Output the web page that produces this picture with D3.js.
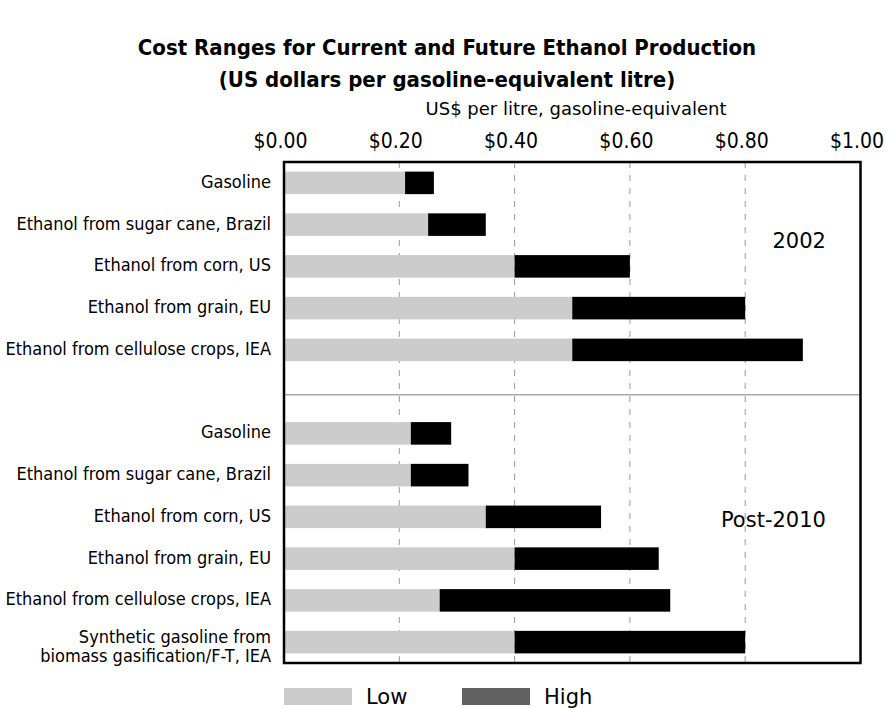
<!DOCTYPE html>
<html lang="en">
<head>
    <meta charset="UTF-8">
    <title>Cost Ranges for Ethanol Production</title>
    <style>
        body { margin: 0; background: #fff; }
        svg { display: block; font-family: "DejaVu Sans Condensed", sans-serif; }
        .title { font-weight: bold; font-size: 22px; }
        .axis text { font-family: "DejaVu Sans Condensed", sans-serif; font-size: 21px; }
        .axis path, .axis line { display: none; }
        .grid { stroke: #999; stroke-dasharray: 6,7; }
        .cat { font-size: 18px; }
        .big { font-family: "DejaVu Sans", sans-serif; font-size: 21px; }
    </style>
</head>
<body>
<svg width="886" height="708"></svg>
<script src="https://d3js.org/d3.v7.min.js"></script>
<script>

    // 2002
    var cats2002 = ["Gasoline", "Ethanol from sugar cane, Brazil", "Ethanol from corn, US",
                    "Ethanol from grain, EU", "Ethanol from cellulose crops, IEA"];
    var low2002  = [0.21, 0.25, 0.40, 0.50, 0.50];
    var high2002 = [0.26, 0.35, 0.60, 0.80, 0.90];

    // post-2010
    var catsPost = ["Gasoline", "Ethanol from sugar cane, Brazil", "Ethanol from corn, US",
                    "Ethanol from grain, EU", "Ethanol from cellulose crops, IEA",
                    "Synthetic gasoline from|biomass gasification/F-T, IEA"];
    var lowPost  = [0.22, 0.22, 0.35, 0.40, 0.27, 0.40];
    var highPost = [0.29, 0.32, 0.55, 0.65, 0.67, 0.80];

    var xTicks = [0, 0.2, 0.4, 0.6, 0.8, 1.0];
    var periods = ["2002", "Post-2010"];

    var svg = d3.select("svg"),
        pLeft = 284, pRight = 860.5, pTop = 162, pBottom = 663;

    // rows: 5 for 2002, one blank slot, 6 for post-2010
    var rows = [];
    cats2002.forEach(function(c, i) { rows.push({key: "a" + i, label: c, low: low2002[i], high: high2002[i]}); });
    rows.push({key: "gap"});
    catsPost.forEach(function(c, i) { rows.push({key: "b" + i, label: c, low: lowPost[i], high: highPost[i]}); });
    var bars = rows.filter(function(d) { return d.key != "gap"; });

    var x = d3.scaleLinear().domain([0, 1]).range([pLeft, pRight]);
    var y = d3.scaleBand().domain(rows.map(function(d) { return d.key; }))
        .range([pTop, pBottom]).paddingInner(0.46).paddingOuter(0.23);

    // title
    svg.append("text").attr("class", "title").attr("x", 447).attr("y", 55)
        .attr("text-anchor", "middle").text("Cost Ranges for Current and Future Ethanol Production");
    svg.append("text").attr("class", "title").attr("x", 447).attr("y", 87)
        .attr("text-anchor", "middle").text("(US dollars per gasoline-equivalent litre)");

    svg.append("text").attr("class", "big").attr("x", 576).attr("y", 115)
        .attr("text-anchor", "middle").style("font-size", "18px")
        .text("US$ per litre, gasoline-equivalent");

    svg.append("g").attr("class", "axis")
        .attr("transform", "translate(0," + pTop + ")")
        .call(d3.axisTop(x).tickValues(xTicks).tickFormat(d3.format("$.2f")).tickSize(0).tickPadding(14))
        .selectAll("text").attr("fill", "#000").attr("dx", -4);

    svg.selectAll(".grid").data(xTicks.slice(1, -1)).enter().append("line")
        .attr("class", "grid")
        .attr("x1", function(d) { return x(d); }).attr("x2", function(d) { return x(d); })
        .attr("y1", pTop).attr("y2", pBottom);

    // divider between periods
    svg.append("line")
        .attr("x1", pLeft).attr("x2", pRight)
        .attr("y1", y("gap") + y.bandwidth() / 2 + 3).attr("y2", y("gap") + y.bandwidth() / 2 + 3)
        .attr("stroke", "#aaa").attr("stroke-width", 1.5);

    svg.selectAll(".low").data(bars).enter().append("rect")
        .attr("class", "low")
        .attr("x", x(0))
        .attr("y", function(d) { return y(d.key); })
        .attr("width", function(d) { return x(d.low) - x(0); })
        .attr("height", y.bandwidth())
        .attr("fill", "#cccccc");

    svg.selectAll(".high").data(bars).enter().append("rect")
        .attr("class", "high")
        .attr("x", function(d) { return x(d.low); })
        .attr("y", function(d) { return y(d.key); })
        .attr("width", function(d) { return x(d.high) - x(d.low); })
        .attr("height", y.bandwidth())
        .attr("fill", "#000");

    // category labels
    var lab = svg.selectAll(".cat").data(bars).enter().append("text")
        .attr("class", "cat")
        .attr("text-anchor", "end")
        .attr("x", pLeft - 13)
        .attr("y", function(d) { return y(d.key) + y.bandwidth() / 2 + 5; });
    lab.each(function(d) {
        var parts = d.label.split("|"), t = d3.select(this);
        if (parts.length == 1) { t.text(parts[0]); return; }
        t.attr("y", y(d.key) + y.bandwidth() / 2 + 1);
        parts.forEach(function(p, i) {
            t.append("tspan").attr("x", pLeft - 13).attr("dy", i ? 19 : 0).text(p);
        });
    });

    // period labels
    svg.append("text").attr("class", "big").attr("x", x(0.94)).attr("y", y("a2") - 7)
        .attr("text-anchor", "end").text(periods[0]);
    svg.append("text").attr("class", "big").attr("x", x(0.94)).attr("y", y("b2") + y.bandwidth() - 1)
        .attr("text-anchor", "end").text(periods[1]);

    // frame
    svg.append("rect")
        .attr("x", pLeft).attr("y", pTop)
        .attr("width", pRight - pLeft).attr("height", pBottom - pTop)
        .attr("fill", "none").attr("stroke", "#000").attr("stroke-width", 2.5);

    // legend
    var legend = [{name: "Low", color: "#cccccc", x: 284}, {name: "High", color: "#606060", x: 462}];
    var lg = svg.selectAll(".leg").data(legend).enter().append("g")
        .attr("transform", function(d) { return "translate(" + d.x + ",688)"; });
    lg.append("rect").attr("width", 68).attr("height", 17).attr("fill", function(d) { return d.color; });
    lg.append("text").attr("class", "big").attr("x", 82).attr("y", 16)
        .text(function(d) { return d.name; });

</script>
</body>
</html>
